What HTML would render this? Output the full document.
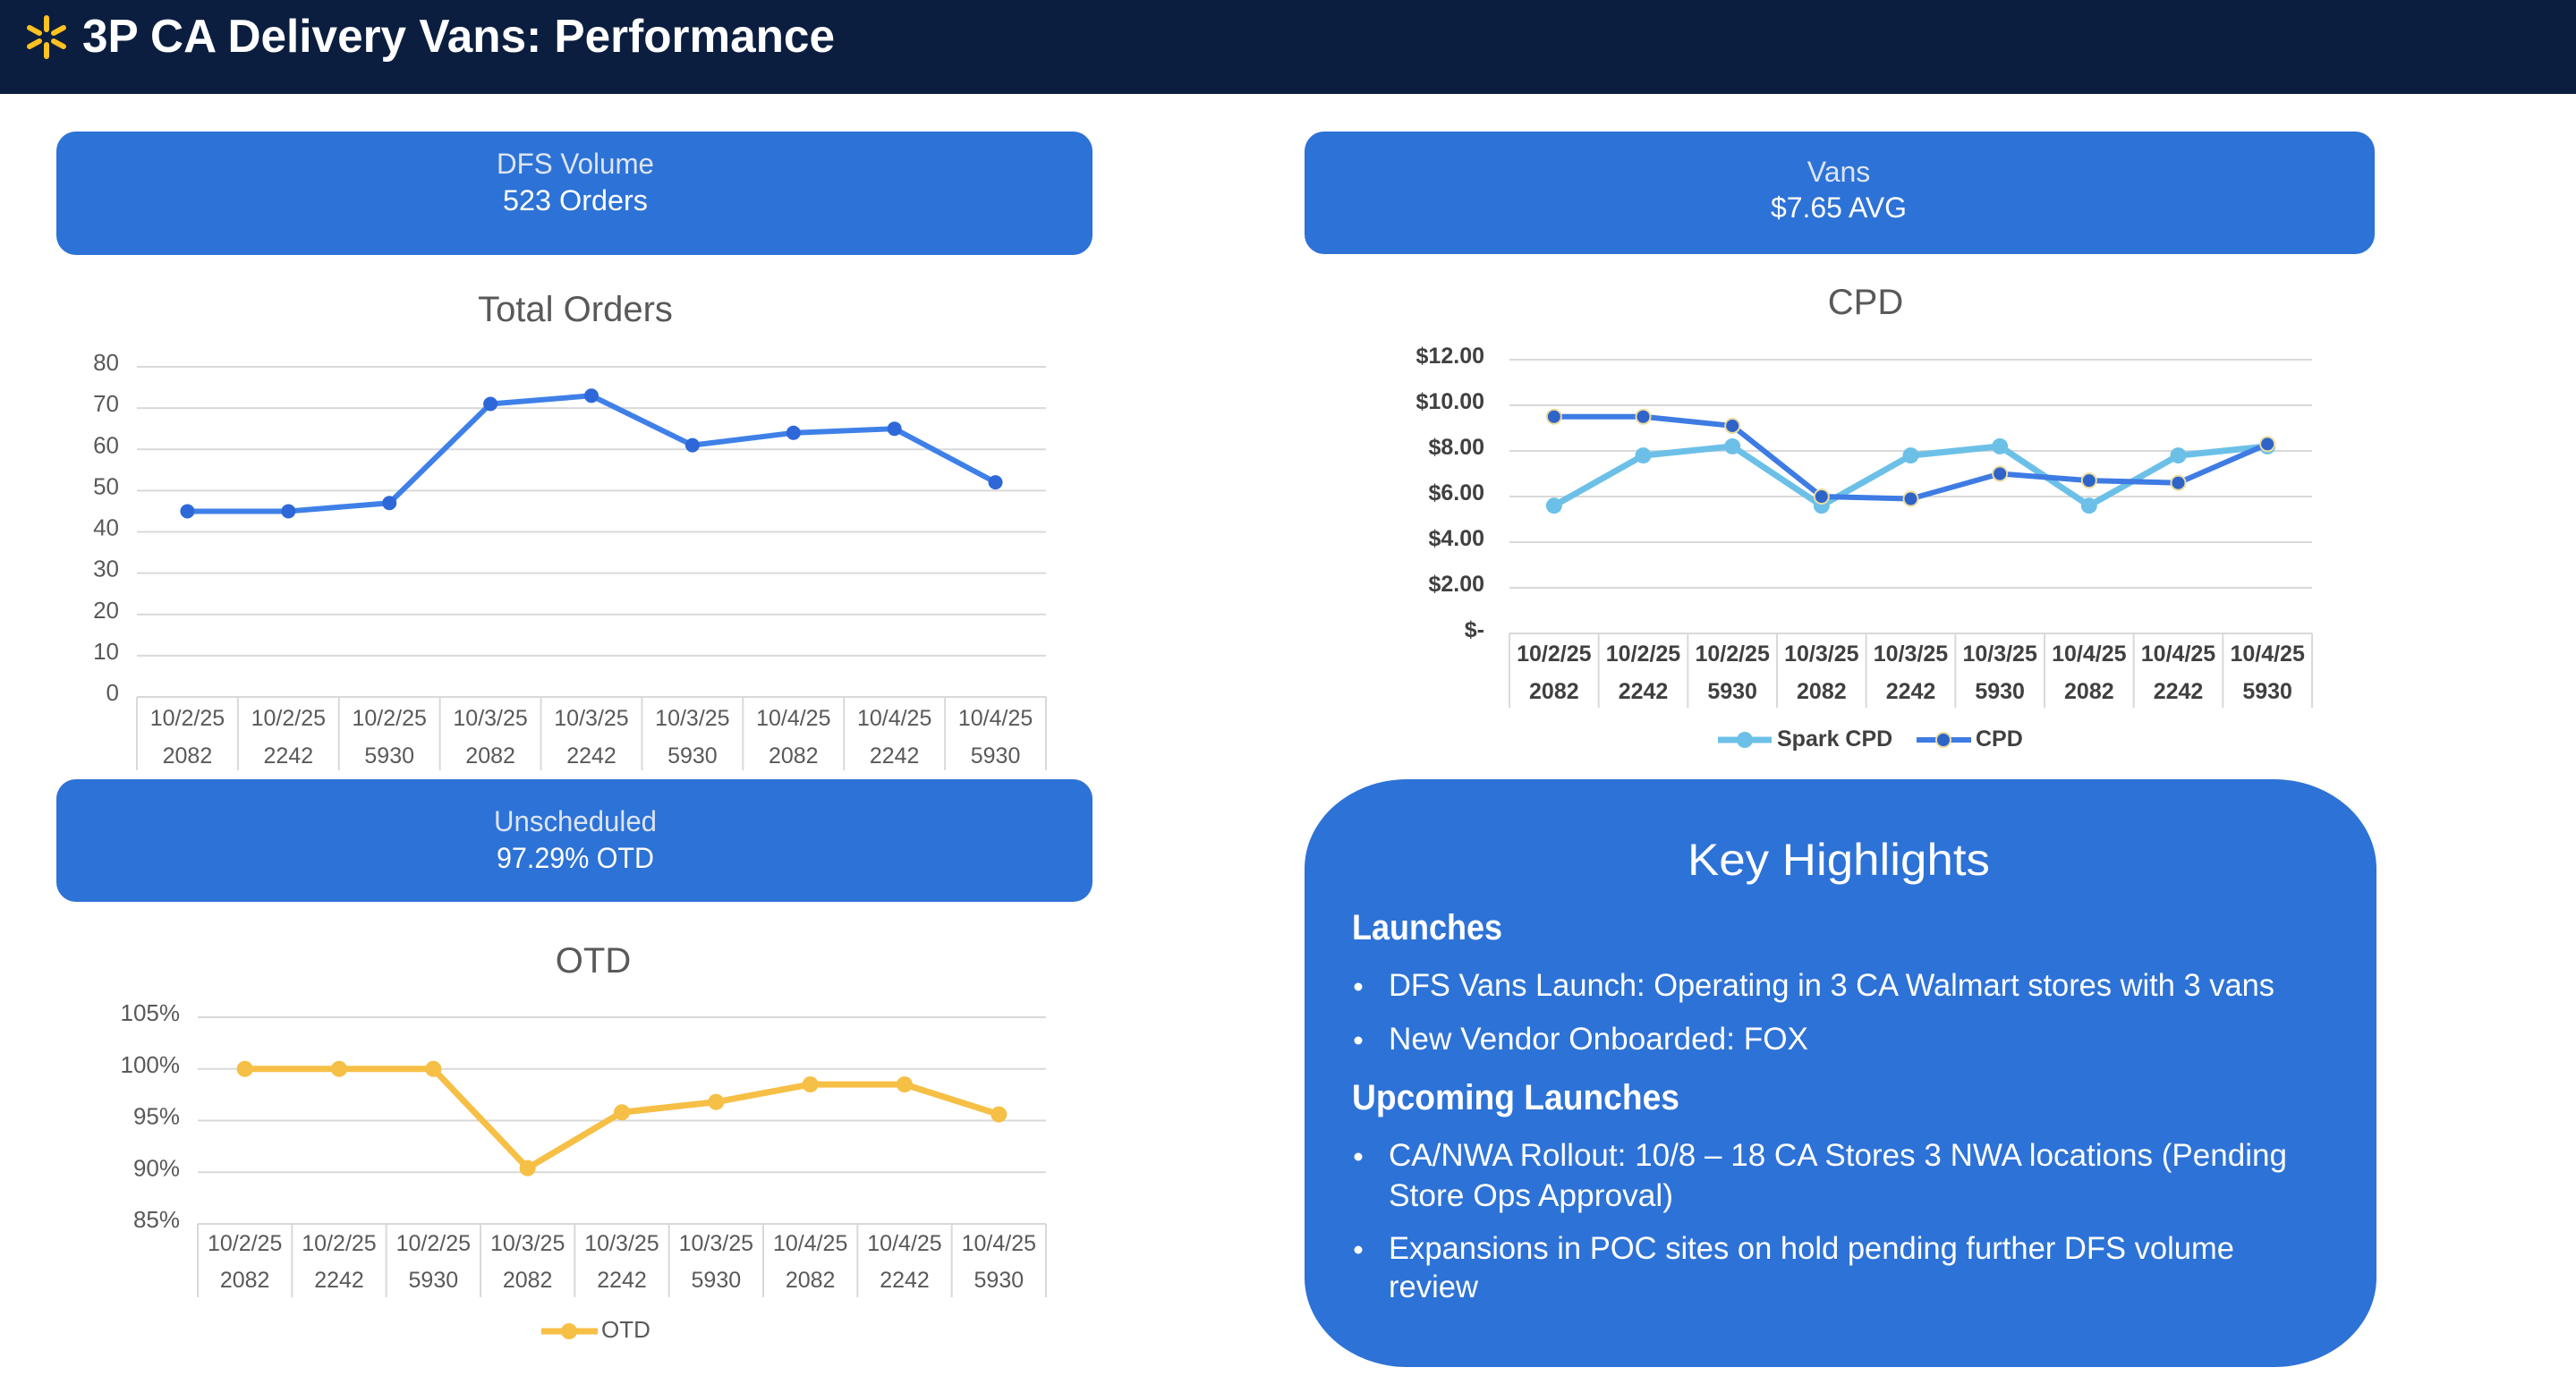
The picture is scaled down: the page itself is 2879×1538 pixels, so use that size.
<!DOCTYPE html>
<html><head><meta charset="utf-8"><style>
html,body{margin:0;padding:0;background:#fff;}
svg{display:block;font-family:"Liberation Sans",sans-serif;}
</style></head><body>
<svg id="s" width="2879" height="1538" viewBox="0 0 2879 1538" xmlns="http://www.w3.org/2000/svg">
<rect x="0" y="0" width="2879" height="105" fill="#0B1E3F"/>
<g stroke="#FFC220" stroke-width="6" stroke-linecap="round">
<line x1="52" y1="20" x2="52" y2="33"/><line x1="52" y1="50" x2="52" y2="63"/>
<line x1="33" y1="31" x2="44" y2="37"/><line x1="60" y1="46" x2="71" y2="52"/>
<line x1="33" y1="52" x2="44" y2="46"/><line x1="60" y1="37" x2="71" y2="31"/>
</g>
<text x="92" y="58" fill="#fff" font-size="52" font-weight="bold" textLength="841" lengthAdjust="spacingAndGlyphs">3P CA Delivery Vans: Performance</text>

<rect x="63" y="147" width="1158" height="138" rx="22" fill="#2D72D6"/>
<text x="643" y="194" fill="#DCE4F2" font-size="32" text-anchor="middle" textLength="176" lengthAdjust="spacingAndGlyphs">DFS Volume</text>
<text x="643" y="235" fill="#fff" font-size="32" text-anchor="middle" textLength="162" lengthAdjust="spacingAndGlyphs">523 Orders</text>

<rect x="1458" y="147" width="1196" height="137" rx="22" fill="#2D72D6"/>
<text x="2055" y="203" fill="#DCE4F2" font-size="32" text-anchor="middle">Vans</text>
<text x="2055" y="243" fill="#fff" font-size="32" text-anchor="middle" textLength="152" lengthAdjust="spacingAndGlyphs">$7.65 AVG</text>

<rect x="63" y="871" width="1158" height="137" rx="22" fill="#2D72D6"/>
<text x="643" y="929" fill="#DCE4F2" font-size="32" text-anchor="middle" textLength="182" lengthAdjust="spacingAndGlyphs">Unscheduled</text>
<text x="643" y="970" fill="#fff" font-size="32" text-anchor="middle" textLength="176" lengthAdjust="spacingAndGlyphs">97.29% OTD</text>

<rect x="1458" y="871" width="1198" height="657" rx="115" ry="100" fill="#2D72D6"/>
<g fill="#fff">
<text x="2055" y="978" font-size="50" text-anchor="middle" textLength="338" lengthAdjust="spacingAndGlyphs">Key Highlights</text>
<text x="1511" y="1050" font-size="40" font-weight="bold" textLength="168" lengthAdjust="spacingAndGlyphs">Launches</text>
<text x="1511" y="1240" font-size="40" font-weight="bold" textLength="366" lengthAdjust="spacingAndGlyphs">Upcoming Launches</text>
<circle cx="1518" cy="1103" r="4.5"/>
<circle cx="1518" cy="1163" r="4.5"/>
<circle cx="1518" cy="1293" r="4.5"/>
<circle cx="1518" cy="1397" r="4.5"/>
<text x="1552" y="1113" font-size="35" textLength="990" lengthAdjust="spacingAndGlyphs">DFS Vans Launch: Operating in 3 CA Walmart stores with 3 vans</text>
<text x="1552" y="1173" font-size="35" textLength="469" lengthAdjust="spacingAndGlyphs">New Vendor Onboarded: FOX</text>
<text x="1552" y="1303" font-size="35" textLength="1004" lengthAdjust="spacingAndGlyphs">CA/NWA Rollout: 10/8 – 18 CA Stores 3 NWA locations (Pending</text>
<text x="1552" y="1348" font-size="35" textLength="318" lengthAdjust="spacingAndGlyphs">Store Ops Approval)</text>
<text x="1552" y="1407" font-size="35" textLength="945" lengthAdjust="spacingAndGlyphs">Expansions in POC sites on hold pending further DFS volume</text>
<text x="1552" y="1450" font-size="35" textLength="100" lengthAdjust="spacingAndGlyphs">review</text>
</g>
<g id="charts"></g>
</svg>
<script>
const categoryDates = ["10/2/25","10/2/25","10/2/25","10/3/25","10/3/25","10/3/25","10/4/25","10/4/25","10/4/25"];
const categoryStores = ["2082","2242","5930","2082","2242","5930","2082","2242","5930"];
const ordersValues = [45,45,47,71,73,61,64,65,52];
const ordersTicks = [0,10,20,30,40,50,60,70,80];
const otdValues = [100,100,100,90.4,95.8,96.8,98.5,98.5,95.6];
const otdTicks = [85,90,95,100,105];
const sparkCpdValues = [5.6,7.8,8.2,5.6,7.8,8.2,5.6,7.8,8.2];
const cpdValues = [9.5,9.5,9.1,6.0,5.9,7.0,6.7,6.6,8.3];
const cpdTicks = [0,2,4,6,8,10,12];
const cpdTickLabels = ["$-","$2.00","$4.00","$6.00","$8.00","$10.00","$12.00"];

const NS = "http://www.w3.org/2000/svg";
const root = document.getElementById("charts");
function mk(tag, attrs, parent) {
  const e = document.createElementNS(NS, tag);
  for (const k in attrs) e.setAttribute(k, attrs[k]);
  (parent || root).appendChild(e);
  return e;
}
function chart(cfg) {
  const g = mk("g", {});
  
  
  const yS = v => cfg.y1 - (v - cfg.vmin) / (cfg.vmax - cfg.vmin) * (cfg.y1 - cfg.y0);
  const n = categoryDates.length;
  const cw = (cfg.x1 - cfg.x0) / n;
  const xS = i => cfg.x0 + cw * (i + 0.5);
  const t = mk("text", {x: cfg.titleX, y: cfg.titleY, "font-size": 40, fill: "#595959", "text-anchor": "middle"}, g);
  t.textContent = cfg.title;
  
  
  cfg.ticks.forEach((v, i) => {
    const y = yS(v);
    const gl = mk("line", {x1: cfg.x0, x2: cfg.x1, y1: y, y2: y, stroke: "#D9D9D9", "stroke-width": 2}, g);
    
    
    const tl = mk("text", {x: cfg.labelX, y: y + 4, "font-size": cfg.tickSize, fill: cfg.tickColor, "text-anchor": "end", "font-weight": cfg.bold ? "bold" : "normal"}, g);
    tl.textContent = cfg.tickLabels ? cfg.tickLabels[i] : cfg.fmt(v);
    
    
  });
  for (let i = 0; i <= n; i++) {
    const x = cfg.x0 + cw * i;
    const vl = mk("line", {x1: x, x2: x, y1: cfg.y1, y2: cfg.cellBottom, stroke: "#D9D9D9", "stroke-width": 2}, g);
    
    
  }
  for (let i = 0; i < n; i++) {
    const a = mk("text", {x: xS(i), y: cfg.row1, "font-size": 25, fill: cfg.tickColor, "text-anchor": "middle", "font-weight": cfg.bold ? "bold" : "normal"}, g);
    a.textContent = categoryDates[i];
    
    
    const b = mk("text", {x: xS(i), y: cfg.row2, "font-size": 25, fill: cfg.tickColor, "text-anchor": "middle", "font-weight": cfg.bold ? "bold" : "normal"}, g);
    b.textContent = categoryStores[i];
    
    
  }
  cfg.series.forEach(s => {
    const pts = s.values.map((v, i) => xS(i) + "," + yS(v)).join(" ");
    const pl = mk("polyline", {points: pts, fill: "none", stroke: s.color, "stroke-width": s.width, "stroke-linejoin": "round"}, g);
    
    
    s.values.forEach((v, i) => {
      const c = mk("circle", {cx: xS(i), cy: yS(v), r: s.r, fill: s.mfill, stroke: s.mstroke || "none", "stroke-width": 2}, g);
      
      
    });
  });
  return g;
}
chart({name: "total-orders-chart", title: "Total Orders", titleX: 643, titleY: 359,
  x0: 153, x1: 1169, y0: 410, y1: 779, vmin: 0, vmax: 80, ticks: ordersTicks, fmt: v => String(v),
  labelX: 133, tickSize: 26, tickColor: "#595959", cellBottom: 861, row1: 811, row2: 853,
  series: [{name: "orders", values: ordersValues, color: "#3F80E8", width: 6, r: 8, mfill: "#2E68D8"}]});
chart({name: "otd-chart", title: "OTD", titleX: 663, titleY: 1087,
  x0: 221, x1: 1169, y0: 1137, y1: 1368, vmin: 85, vmax: 105, ticks: otdTicks, fmt: v => v + "%",
  labelX: 201, tickSize: 26, tickColor: "#595959", cellBottom: 1450, row1: 1398, row2: 1439,
  series: [{name: "otd", values: otdValues, color: "#F6BF45", width: 7, r: 9, mfill: "#F6BF45"}]});
chart({name: "cpd-chart", title: "CPD", titleX: 2085, titleY: 351,
  x0: 1687, x1: 2584, y0: 402, y1: 708, vmin: 0, vmax: 12, ticks: cpdTicks, tickLabels: cpdTickLabels,
  labelX: 1659, tickSize: 25, tickColor: "#404040", bold: true, cellBottom: 791, row1: 739, row2: 781,
  series: [{name: "spark-cpd", values: sparkCpdValues, color: "#6CC0E8", width: 7, r: 9, mfill: "#6CC0E8"},
           {name: "cpd", values: cpdValues, color: "#3E7BE3", width: 6, r: 8, mfill: "#2E63C8", mstroke: "#EADBA0"}]});

const lg1 = mk("g", {});


mk("line", {x1: 605, x2: 668, y1: 1488, y2: 1488, stroke: "#F6BF45", "stroke-width": 7}, lg1);
mk("circle", {cx: 636, cy: 1488, r: 9, fill: "#F6BF45"}, lg1);
const lt1 = mk("text", {x: 672, y: 1495, "font-size": 26, fill: "#595959"}, lg1);
lt1.textContent = "OTD";



const lg2 = mk("g", {});


mk("line", {x1: 1920, x2: 1980, y1: 827, y2: 827, stroke: "#6CC0E8", "stroke-width": 7}, lg2);
mk("circle", {cx: 1950, cy: 827, r: 9, fill: "#6CC0E8"}, lg2);
const lt2 = mk("text", {x: 1986, y: 834, "font-size": 25, "font-weight": "bold", fill: "#404040"}, lg2);
lt2.textContent = "Spark CPD";



const lg3 = mk("g", {});


mk("line", {x1: 2142, x2: 2203, y1: 827, y2: 827, stroke: "#3E7BE3", "stroke-width": 6}, lg3);
mk("circle", {cx: 2172, cy: 827, r: 8, fill: "#2E63C8", stroke: "#EADBA0", "stroke-width": 2}, lg3);
const lt3 = mk("text", {x: 2208, y: 834, "font-size": 25, "font-weight": "bold", fill: "#404040"}, lg3);
lt3.textContent = "CPD";


</script>
</body></html>
